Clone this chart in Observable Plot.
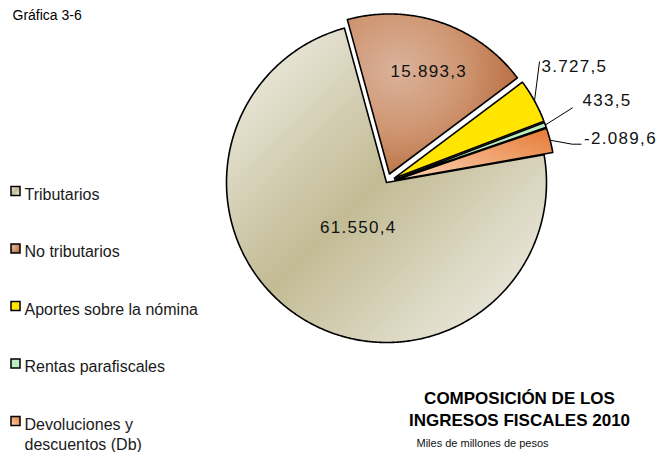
<!DOCTYPE html>
<html><head><meta charset="utf-8">
<script src="https://cdn.jsdelivr.net/npm/d3@7"></script>
<script src="https://cdn.jsdelivr.net/npm/@observablehq/plot@0.6"></script>
<style>
html,body{margin:0;padding:0;background:#fff;}
#chart svg{display:block;font-family:"Liberation Sans",Arial,sans-serif;}
</style></head><body>
<svg width="0" height="0" style="position:absolute"><defs>
<linearGradient id="gTrib" x1="0" y1="0" x2="1" y2="1">
<stop offset="0" stop-color="#f3f2ec"/><stop offset="0.48" stop-color="#c2bb94"/><stop offset="1" stop-color="#f4f3ef"/>
</linearGradient>
<radialGradient id="gNoTrib" cx="0.3" cy="0.35" r="0.85">
<stop offset="0" stop-color="#dab29b"/><stop offset="0.45" stop-color="#cf9672"/><stop offset="1" stop-color="#b15e2d"/>
</radialGradient>
<linearGradient id="gDev" x1="1" y1="0" x2="0" y2="1">
<stop offset="0" stop-color="#e67a35"/><stop offset="1" stop-color="#fdd5b8"/>
</linearGradient>
</defs></svg>
<div id="chart"></div>
<script>
// ---- data ----
const categories = ["Tributarios", "No tributarios", "Aportes sobre la nómina", "Rentas parafiscales", "Devoluciones y descuentos (Db)"];
const legendLabels = ["Tributarios", "No tributarios", "Aportes sobre la nómina", "Rentas parafiscales", "Devoluciones y\ndescuentos (Db)"];
const values = [61550.4, 15893.3, 3727.5, 433.5, -2089.6];
const valueLabels = ["61.550,4", "15.893,3", "3.727,5", "433,5", "-2.089,6"];
const chartLabel = "Gráfica 3-6";
const titleText = "COMPOSICIÓN DE LOS\nINGRESOS FISCALES 2010";
const subtitleText = "Miles de millones de pesos";

// ---- styles / layout ----
const fills = ["url(#gTrib)", "url(#gNoTrib)", "#ffe500", "#bdeec3", "url(#gDev)"];
const W = 659, H = 452;
const center = [386, 182], R = 160, startDeg = 80;
const explode = [0, 9, 9, 9, 9];
const insideLabelR = [0.33, 0.68, null, null, null];
const insideLabelShift = [[0, 0], [4, 0], null, null, null];
// outside labels: leader polyline offsets and text offset relative to arc point at slice bisector
const leaderOffsets = [null, null, [[5, -39]], [[27, -17]], [[22, 4], [31, 4]]];
const textOffsets = [null, null, [7, -34], [37, -24], [34, -2]];
const legendX = 11, legendBox = 9, legendTop = 191, legendStep = 57.5;

const rad = d => d * Math.PI / 180;
const absTotal = d3.sum(values, v => Math.abs(v));
let acc = startDeg;
const slices = values.map((v, i) => {
  const span = Math.abs(v) / absTotal * 360;
  const a0 = acc, a1 = acc + span; acc = a1;
  const mid = (a0 + a1) / 2;
  return {i, a0, a1, mid,
    cx: center[0] + explode[i] * Math.sin(rad(mid)),
    cy: center[1] - explode[i] * Math.cos(rad(mid))};
});
const pt = (s, r, a) => ({x: s.cx + r * Math.sin(rad(a)), y: s.cy - r * Math.cos(rad(a))});
function poly(s) {
  const n = Math.max(2, Math.ceil((s.a1 - s.a0) / 0.5));
  const pts = [{x: s.cx, y: s.cy}];
  for (let k = 0; k <= n; k++) pts.push(pt(s, R, s.a0 + (s.a1 - s.a0) * k / n));
  return pts;
}

const sliceMarks = slices.map(s => Plot.line(poly(s), {
  x: "x", y: "y", curve: "linear-closed", fill: fills[s.i],
  stroke: "#000", strokeWidth: 1.6, strokeLinejoin: "round"
}));

const insideLabels = slices.filter(s => insideLabelR[s.i] != null).map(s => {
  const p = pt(s, R * insideLabelR[s.i], s.mid);
  return {x: p.x + insideLabelShift[s.i][0], y: p.y + insideLabelShift[s.i][1], text: valueLabels[s.i]};
});
const outside = slices.filter(s => leaderOffsets[s.i]);
const leaderMarks = outside.map(s => {
  const a = pt(s, R, s.mid);
  const pts = [a, ...leaderOffsets[s.i].map(([dx, dy]) => ({x: a.x + dx, y: a.y + dy}))];
  return Plot.line(pts, {x: "x", y: "y", stroke: "#000", strokeWidth: 1});
});
const outsideLabels = outside.map(s => {
  const a = pt(s, R, s.mid);
  return {x: a.x + textOffsets[s.i][0], y: a.y + textOffsets[s.i][1], text: valueLabels[s.i]};
});

const legendRows = legendLabels.map((t, i) => ({i, t, cy: legendTop + i * legendStep}));
const legendBoxes = legendRows.map(r => Plot.rect([r], {
  x1: legendX, x2: legendX + legendBox, y1: d => d.cy - legendBox / 2, y2: d => d.cy + legendBox / 2,
  fill: fills[r.i], stroke: "#000", strokeWidth: 1.5
}));

const chart = Plot.plot({
  width: W, height: H, margin: 0,
  x: {domain: [0, W], range: [0, W], axis: null},
  y: {domain: [0, H], range: [0, H], axis: null},
  style: {background: "#fff", fontFamily: "Liberation Sans, Arial, sans-serif"},
  marks: [
    ...sliceMarks,
    ...leaderMarks,
    Plot.text(insideLabels, {x: "x", y: "y", text: "text", fontSize: 17, fill: "#111"}),
    Plot.text(outsideLabels, {x: "x", y: "y", text: "text", fontSize: 17, fill: "#111", textAnchor: "start"}),
    ...legendBoxes,
    Plot.text(legendRows, {x: legendX + legendBox + 4, y: d => d.cy - 5.7, text: "t", fontSize: 16, fill: "#1a1a1a", textAnchor: "start", lineAnchor: "top", lineHeight: 1.25}),
    Plot.text([chartLabel], {x: 12, y: 10, text: d => d, fontSize: 14, fill: "#000", textAnchor: "start", lineAnchor: "top"}),
    Plot.text([titleText], {x: 519, y: 389, text: d => d, fontSize: 17, fontWeight: "bold", fill: "#000", lineAnchor: "top", lineHeight: 1.24}),
    Plot.text([subtitleText], {x: 416, y: 439, text: d => d, fontSize: 11, fill: "#111", textAnchor: "start", lineAnchor: "top"})
  ]
});
d3.select(chart).selectAll("text").filter(function() { return valueLabels.includes(this.textContent); }).style("letter-spacing", "1.3px");
document.getElementById("chart").append(chart);
</script>
</body></html>
